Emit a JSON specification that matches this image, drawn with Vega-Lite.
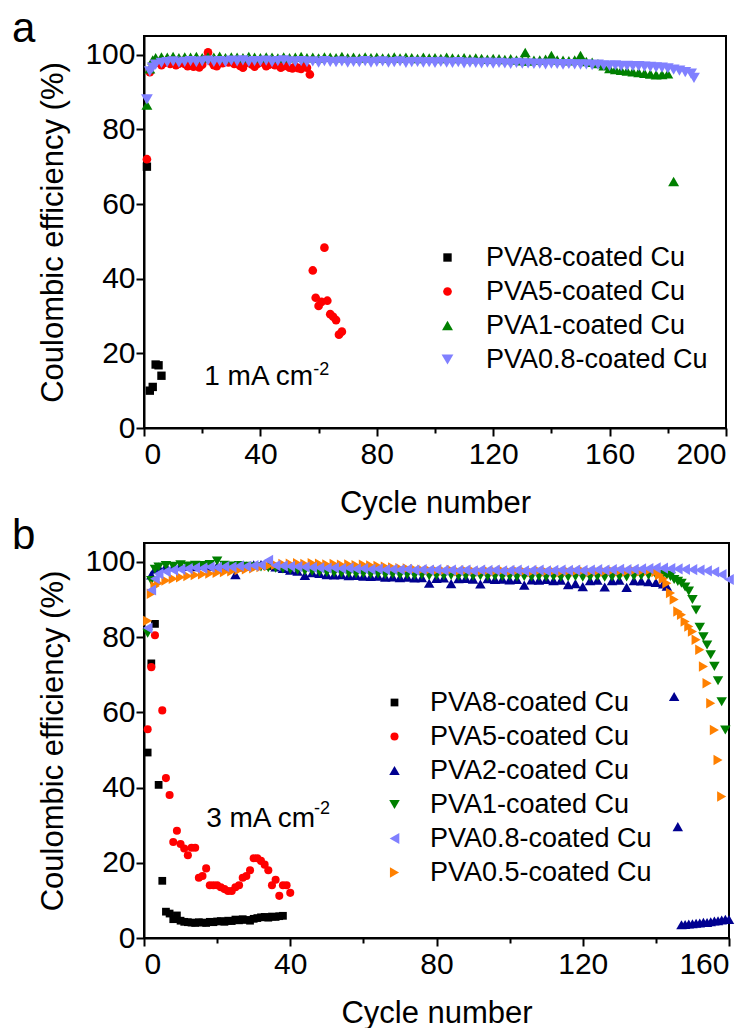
{
"$schema":"https://vega.github.io/schema/vega-lite/v6.json",
"background":"white",
"padding":{"left":10,"top":7,"right":10,"bottom":2},
"spacing":-5,
"config":{
"font":"Liberation Sans",
"view":{"stroke":"black","strokeWidth":2},
"axis":{"domainColor":"black","domainWidth":2,"tickColor":"black","tickWidth":2,"labelFontSize":30,"titleFontSize":31,"labelColor":"black","titleColor":"black","titleFontWeight":"normal","grid":false},
"axisX":{"labelPadding":3,"titlePadding":19},
"axisY":{"labelPadding":1,"titlePadding":15},
"legend":{"orient":"none","labelFontSize":27,"labelLimit":500,"symbolSize":55,"rowPadding":6,"labelOffset":25,"symbolStrokeWidth":0,"padding":0,"labelColor":"black","title":null},
"title":{"fontSize":42,"fontWeight":"normal","anchor":"start","frame":"bounds","baseline":"alphabetic","offset":-15,"dx":-26,"color":"black"}
},
"resolve":{"scale":{"color":"independent","shape":"independent","size":"independent"}},
"vconcat":[
{
"title":"a",
"width":582,"height":392,
"layer":[
{"data":{"values":[
{"s":"PVA8","c":1,"v":70},{"s":"PVA8","c":2,"v":10},{"s":"PVA8","c":3,"v":11},{"s":"PVA8","c":4,"v":17},{"s":"PVA8","c":5,"v":16.8},{"s":"PVA8","c":6,"v":14},
{"s":"PVA5","c":1,"v":72},{"s":"PVA5","c":2,"v":95.3},{"s":"PVA5","c":3,"v":97.5},{"s":"PVA5","c":4,"v":97.8},{"s":"PVA5","c":5,"v":98},{"s":"PVA5","c":6,"v":97.2},{"s":"PVA5","c":7,"v":97.8},{"s":"PVA5","c":8,"v":98.2},{"s":"PVA5","c":9,"v":97.5},{"s":"PVA5","c":10,"v":98},{"s":"PVA5","c":11,"v":97.2},{"s":"PVA5","c":12,"v":97.6},{"s":"PVA5","c":13,"v":98.3},{"s":"PVA5","c":14,"v":97.5},{"s":"PVA5","c":15,"v":96.9},{"s":"PVA5","c":16,"v":97.1},{"s":"PVA5","c":17,"v":96.8},{"s":"PVA5","c":18,"v":97},{"s":"PVA5","c":19,"v":96.6},{"s":"PVA5","c":20,"v":97.3},{"s":"PVA5","c":21,"v":98.8},{"s":"PVA5","c":22,"v":100.6},{"s":"PVA5","c":23,"v":98.2},{"s":"PVA5","c":24,"v":97.2},{"s":"PVA5","c":25,"v":96.9},{"s":"PVA5","c":26,"v":98},{"s":"PVA5","c":27,"v":97.7},{"s":"PVA5","c":28,"v":98.3},{"s":"PVA5","c":29,"v":97.9},{"s":"PVA5","c":30,"v":98.2},{"s":"PVA5","c":31,"v":97.5},{"s":"PVA5","c":32,"v":97.8},{"s":"PVA5","c":33,"v":97},{"s":"PVA5","c":34,"v":96.5},{"s":"PVA5","c":35,"v":97.8},{"s":"PVA5","c":36,"v":98},{"s":"PVA5","c":37,"v":97.4},{"s":"PVA5","c":38,"v":96.8},{"s":"PVA5","c":39,"v":97.5},{"s":"PVA5","c":40,"v":97.9},{"s":"PVA5","c":41,"v":98.1},{"s":"PVA5","c":42,"v":96.9},{"s":"PVA5","c":43,"v":97.3},{"s":"PVA5","c":44,"v":97.8},{"s":"PVA5","c":45,"v":97.2},{"s":"PVA5","c":46,"v":97.6},{"s":"PVA5","c":47,"v":96.5},{"s":"PVA5","c":48,"v":96.9},{"s":"PVA5","c":49,"v":97.7},{"s":"PVA5","c":50,"v":96.5},{"s":"PVA5","c":51,"v":96.3},{"s":"PVA5","c":52,"v":96.8},{"s":"PVA5","c":53,"v":96.4},{"s":"PVA5","c":54,"v":96.2},{"s":"PVA5","c":55,"v":96.8},{"s":"PVA5","c":56,"v":96.5},{"s":"PVA5","c":57,"v":94.7},{"s":"PVA5","c":58,"v":42.2},{"s":"PVA5","c":59,"v":34.9},{"s":"PVA5","c":60,"v":32.7},{"s":"PVA5","c":61,"v":33.8},{"s":"PVA5","c":62,"v":48.3},{"s":"PVA5","c":63,"v":34.1},{"s":"PVA5","c":64,"v":30.5},{"s":"PVA5","c":65,"v":29.8},{"s":"PVA5","c":66,"v":28.9},{"s":"PVA5","c":67,"v":25},{"s":"PVA5","c":68,"v":25.8},
{"s":"PVA1","c":1,"v":86.5},{"s":"PVA1","c":2,"v":96.2},{"s":"PVA1","c":3,"v":98.6},{"s":"PVA1","c":4,"v":99.2},{"s":"PVA1","c":6,"v":99.4},{"s":"PVA1","c":8,"v":99.3},{"s":"PVA1","c":10,"v":99.5},{"s":"PVA1","c":12,"v":99.2},{"s":"PVA1","c":14,"v":99.4},{"s":"PVA1","c":16,"v":99.3},{"s":"PVA1","c":18,"v":99.5},{"s":"PVA1","c":20,"v":99.2},{"s":"PVA1","c":22,"v":99.4},{"s":"PVA1","c":24,"v":99.3},{"s":"PVA1","c":26,"v":99.6},{"s":"PVA1","c":28,"v":99.2},{"s":"PVA1","c":30,"v":99.4},{"s":"PVA1","c":32,"v":99.3},{"s":"PVA1","c":34,"v":99.2},{"s":"PVA1","c":36,"v":99.5},{"s":"PVA1","c":38,"v":99.3},{"s":"PVA1","c":40,"v":99.2},{"s":"PVA1","c":42,"v":99.4},{"s":"PVA1","c":44,"v":99.3},{"s":"PVA1","c":46,"v":99.1},{"s":"PVA1","c":48,"v":99.4},{"s":"PVA1","c":50,"v":99.2},{"s":"PVA1","c":52,"v":99.3},{"s":"PVA1","c":54,"v":99.5},{"s":"PVA1","c":56,"v":99.2},{"s":"PVA1","c":58,"v":99.3},{"s":"PVA1","c":60,"v":99.1},{"s":"PVA1","c":62,"v":99.4},{"s":"PVA1","c":64,"v":99.3},{"s":"PVA1","c":66,"v":99.2},{"s":"PVA1","c":68,"v":99.5},{"s":"PVA1","c":70,"v":99.2},{"s":"PVA1","c":72,"v":99.3},{"s":"PVA1","c":74,"v":99.1},{"s":"PVA1","c":76,"v":99.4},{"s":"PVA1","c":78,"v":99.2},{"s":"PVA1","c":80,"v":99.3},{"s":"PVA1","c":82,"v":99.1},{"s":"PVA1","c":84,"v":99.2},{"s":"PVA1","c":86,"v":99.4},{"s":"PVA1","c":88,"v":99.1},{"s":"PVA1","c":90,"v":99.3},{"s":"PVA1","c":92,"v":99.2},{"s":"PVA1","c":94,"v":99},{"s":"PVA1","c":96,"v":99.3},{"s":"PVA1","c":98,"v":99.1},{"s":"PVA1","c":100,"v":99.2},{"s":"PVA1","c":102,"v":99},{"s":"PVA1","c":104,"v":99.3},{"s":"PVA1","c":106,"v":99.1},{"s":"PVA1","c":108,"v":99},{"s":"PVA1","c":110,"v":99.2},{"s":"PVA1","c":112,"v":98.9},{"s":"PVA1","c":114,"v":99.1},{"s":"PVA1","c":116,"v":99},{"s":"PVA1","c":118,"v":98.8},{"s":"PVA1","c":120,"v":99},{"s":"PVA1","c":122,"v":98.9},{"s":"PVA1","c":124,"v":98.7},{"s":"PVA1","c":126,"v":98.9},{"s":"PVA1","c":128,"v":98.6},{"s":"PVA1","c":130,"v":98.4},{"s":"PVA1","c":131,"v":100.6},{"s":"PVA1","c":132,"v":98.3},{"s":"PVA1","c":134,"v":98.5},{"s":"PVA1","c":136,"v":98.6},{"s":"PVA1","c":138,"v":98.8},{"s":"PVA1","c":140,"v":99.8},{"s":"PVA1","c":142,"v":98.6},{"s":"PVA1","c":144,"v":98.5},{"s":"PVA1","c":146,"v":98.4},{"s":"PVA1","c":148,"v":98.6},{"s":"PVA1","c":150,"v":99.8},{"s":"PVA1","c":152,"v":98.2},{"s":"PVA1","c":154,"v":98},{"s":"PVA1","c":156,"v":97.6},{"s":"PVA1","c":158,"v":97},{"s":"PVA1","c":160,"v":96.3},{"s":"PVA1","c":162,"v":96},{"s":"PVA1","c":164,"v":95.8},{"s":"PVA1","c":166,"v":95.6},{"s":"PVA1","c":168,"v":95.4},{"s":"PVA1","c":170,"v":95.2},{"s":"PVA1","c":172,"v":95},{"s":"PVA1","c":174,"v":94.8},{"s":"PVA1","c":176,"v":94.6},{"s":"PVA1","c":178,"v":94.7},{"s":"PVA1","c":180,"v":94.9},{"s":"PVA1","c":182,"v":66},
{"s":"PVA0.8","c":1,"v":88},{"s":"PVA0.8","c":2,"v":95.5},{"s":"PVA0.8","c":3,"v":96.5},{"s":"PVA0.8","c":4,"v":97.3},{"s":"PVA0.8","c":6,"v":97.8},{"s":"PVA0.8","c":8,"v":98},{"s":"PVA0.8","c":10,"v":98.2},{"s":"PVA0.8","c":12,"v":97.9},{"s":"PVA0.8","c":14,"v":98.1},{"s":"PVA0.8","c":16,"v":98.3},{"s":"PVA0.8","c":18,"v":98},{"s":"PVA0.8","c":20,"v":98.2},{"s":"PVA0.8","c":22,"v":98.4},{"s":"PVA0.8","c":24,"v":98.1},{"s":"PVA0.8","c":26,"v":98.3},{"s":"PVA0.8","c":28,"v":98},{"s":"PVA0.8","c":30,"v":98.4},{"s":"PVA0.8","c":32,"v":98.2},{"s":"PVA0.8","c":34,"v":98.5},{"s":"PVA0.8","c":36,"v":98.1},{"s":"PVA0.8","c":38,"v":98.3},{"s":"PVA0.8","c":40,"v":98.2},{"s":"PVA0.8","c":42,"v":98.4},{"s":"PVA0.8","c":44,"v":98},{"s":"PVA0.8","c":46,"v":98.3},{"s":"PVA0.8","c":48,"v":98.5},{"s":"PVA0.8","c":50,"v":98.2},{"s":"PVA0.8","c":52,"v":98.1},{"s":"PVA0.8","c":54,"v":98.3},{"s":"PVA0.8","c":56,"v":98},{"s":"PVA0.8","c":58,"v":98.2},{"s":"PVA0.8","c":60,"v":97.9},{"s":"PVA0.8","c":62,"v":98.3},{"s":"PVA0.8","c":64,"v":98.1},{"s":"PVA0.8","c":66,"v":98},{"s":"PVA0.8","c":68,"v":98.2},{"s":"PVA0.8","c":70,"v":97.9},{"s":"PVA0.8","c":72,"v":98.1},{"s":"PVA0.8","c":74,"v":98},{"s":"PVA0.8","c":76,"v":98.3},{"s":"PVA0.8","c":78,"v":97.9},{"s":"PVA0.8","c":80,"v":98.1},{"s":"PVA0.8","c":82,"v":98.2},{"s":"PVA0.8","c":84,"v":97.9},{"s":"PVA0.8","c":86,"v":98},{"s":"PVA0.8","c":88,"v":98.2},{"s":"PVA0.8","c":90,"v":97.8},{"s":"PVA0.8","c":92,"v":98},{"s":"PVA0.8","c":94,"v":98.1},{"s":"PVA0.8","c":96,"v":97.9},{"s":"PVA0.8","c":98,"v":98},{"s":"PVA0.8","c":100,"v":97.8},{"s":"PVA0.8","c":102,"v":98.1},{"s":"PVA0.8","c":104,"v":97.9},{"s":"PVA0.8","c":106,"v":97.8},{"s":"PVA0.8","c":108,"v":98},{"s":"PVA0.8","c":110,"v":97.7},{"s":"PVA0.8","c":112,"v":97.9},{"s":"PVA0.8","c":114,"v":97.8},{"s":"PVA0.8","c":116,"v":97.7},{"s":"PVA0.8","c":118,"v":97.9},{"s":"PVA0.8","c":120,"v":97.6},{"s":"PVA0.8","c":122,"v":97.8},{"s":"PVA0.8","c":124,"v":97.7},{"s":"PVA0.8","c":126,"v":97.5},{"s":"PVA0.8","c":128,"v":97.8},{"s":"PVA0.8","c":130,"v":97.6},{"s":"PVA0.8","c":132,"v":97.7},{"s":"PVA0.8","c":134,"v":97.5},{"s":"PVA0.8","c":136,"v":97.6},{"s":"PVA0.8","c":138,"v":97.4},{"s":"PVA0.8","c":140,"v":97.6},{"s":"PVA0.8","c":142,"v":97.5},{"s":"PVA0.8","c":144,"v":97.3},{"s":"PVA0.8","c":146,"v":97.5},{"s":"PVA0.8","c":148,"v":97.4},{"s":"PVA0.8","c":150,"v":97.3},{"s":"PVA0.8","c":152,"v":97.4},{"s":"PVA0.8","c":154,"v":97.2},{"s":"PVA0.8","c":156,"v":97.3},{"s":"PVA0.8","c":158,"v":97.1},{"s":"PVA0.8","c":160,"v":97},{"s":"PVA0.8","c":162,"v":97.1},{"s":"PVA0.8","c":164,"v":96.9},{"s":"PVA0.8","c":166,"v":97},{"s":"PVA0.8","c":168,"v":96.9},{"s":"PVA0.8","c":170,"v":96.9},{"s":"PVA0.8","c":172,"v":96.8},{"s":"PVA0.8","c":174,"v":96.7},{"s":"PVA0.8","c":176,"v":96.6},{"s":"PVA0.8","c":178,"v":96.5},{"s":"PVA0.8","c":180,"v":96.3},{"s":"PVA0.8","c":182,"v":96},{"s":"PVA0.8","c":184,"v":95.7},{"s":"PVA0.8","c":186,"v":95.3},{"s":"PVA0.8","c":188,"v":94.9},{"s":"PVA0.8","c":189,"v":93.8}
]},
"mark":{"type":"point","filled":true,"opacity":1,"strokeWidth":0},
"encoding":{
"x":{"field":"c","type":"quantitative","scale":{"domain":[0,200],"nice":false,"zero":false},"axis":{"values":[0,20,40,60,80,100,120,140,160,180,200],"labelExpr":"datum.value % 40 === 0 ? datum.label : ''","tickSize":{"condition":{"test":"datum.value % 40 === 0","value":8},"value":5},"title":"Cycle number"}},
"y":{"field":"v","type":"quantitative","scale":{"domain":[0,105],"nice":false},"axis":{"values":[0,10,20,30,40,50,60,70,80,90,100],"labelExpr":"datum.value % 20 === 0 ? datum.label : ''","tickSize":{"condition":{"test":"datum.value % 20 === 0","value":8},"value":5},"title":"Coulombic efficiency (%)"}},
"color":{"field":"s","type":"nominal","sort":null,"scale":{"domain":["PVA8","PVA5","PVA1","PVA0.8"],"range":["#000000","#ff0000","#008000","#8080ff"]},"legend":{"legendX":290,"legendY":208,"labelExpr":"datum.label + '-coated Cu'"}},
"shape":{"field":"s","type":"nominal","sort":null,"scale":{"domain":["PVA8","PVA5","PVA1","PVA0.8"],"range":["square","circle","triangle-up","triangle-down"]},"legend":{"legendX":290,"legendY":208,"labelExpr":"datum.label + '-coated Cu'"}},
"size":{"field":"s","type":"nominal","scale":{"type":"ordinal","domain":["PVA8","PVA5","PVA1","PVA0.8"],"range":[70,75,120,140]},"legend":null}
}},
{"data":{"values":[{"c":20.7,"v":11.5,"t":"1 mA cm"}]},"mark":{"type":"text","align":"left","baseline":"alphabetic","fontSize":28,"color":"black"},"encoding":{"x":{"field":"c","type":"quantitative"},"y":{"field":"v","type":"quantitative"},"text":{"field":"t"}}},
{"data":{"values":[{"c":58.2,"v":14.2,"t":"-2"}]},"mark":{"type":"text","align":"left","baseline":"alphabetic","fontSize":18,"color":"black"},"encoding":{"x":{"field":"c","type":"quantitative"},"y":{"field":"v","type":"quantitative"},"text":{"field":"t"}}}
]
},
{
"title":"b",
"width":585,"height":395,
"layer":[
{"data":{"values":[
{"s":"PVA8","c":1,"v":49.3},{"s":"PVA8","c":2,"v":73},{"s":"PVA8","c":3,"v":83.5},{"s":"PVA8","c":4,"v":40.7},{"s":"PVA8","c":5,"v":15.2},{"s":"PVA8","c":6,"v":7},{"s":"PVA8","c":7,"v":6.5},{"s":"PVA8","c":8,"v":5},{"s":"PVA8","c":9,"v":6},{"s":"PVA8","c":10,"v":4.6},{"s":"PVA8","c":11,"v":4.3},{"s":"PVA8","c":12,"v":4.2},{"s":"PVA8","c":13,"v":4.1},{"s":"PVA8","c":14,"v":4},{"s":"PVA8","c":15,"v":4.2},{"s":"PVA8","c":16,"v":4.1},{"s":"PVA8","c":17,"v":4},{"s":"PVA8","c":18,"v":4.3},{"s":"PVA8","c":19,"v":4.2},{"s":"PVA8","c":20,"v":4.4},{"s":"PVA8","c":21,"v":4.5},{"s":"PVA8","c":22,"v":4.3},{"s":"PVA8","c":23,"v":4.6},{"s":"PVA8","c":24,"v":4.5},{"s":"PVA8","c":25,"v":4.9},{"s":"PVA8","c":26,"v":4.7},{"s":"PVA8","c":27,"v":5},{"s":"PVA8","c":28,"v":4.8},{"s":"PVA8","c":29,"v":4.6},{"s":"PVA8","c":30,"v":5.1},{"s":"PVA8","c":31,"v":5.3},{"s":"PVA8","c":32,"v":5.5},{"s":"PVA8","c":33,"v":5.6},{"s":"PVA8","c":34,"v":5.4},{"s":"PVA8","c":35,"v":5.7},{"s":"PVA8","c":36,"v":5.6},{"s":"PVA8","c":37,"v":5.8},{"s":"PVA8","c":38,"v":5.9},
{"s":"PVA5","c":1,"v":55.5},{"s":"PVA5","c":2,"v":72},{"s":"PVA5","c":3,"v":80.5},{"s":"PVA5","c":5,"v":60.5},{"s":"PVA5","c":6,"v":42.5},{"s":"PVA5","c":7,"v":38},{"s":"PVA5","c":8,"v":25.5},{"s":"PVA5","c":9,"v":28.5},{"s":"PVA5","c":10,"v":25},{"s":"PVA5","c":11,"v":23.8},{"s":"PVA5","c":12,"v":22},{"s":"PVA5","c":13,"v":24},{"s":"PVA5","c":14,"v":24},{"s":"PVA5","c":15,"v":16},{"s":"PVA5","c":16,"v":16.5},{"s":"PVA5","c":17,"v":18.5},{"s":"PVA5","c":18,"v":14},{"s":"PVA5","c":19,"v":14},{"s":"PVA5","c":20,"v":14},{"s":"PVA5","c":21,"v":13.5},{"s":"PVA5","c":22,"v":13},{"s":"PVA5","c":23,"v":12.5},{"s":"PVA5","c":24,"v":12.5},{"s":"PVA5","c":25,"v":13.5},{"s":"PVA5","c":26,"v":14},{"s":"PVA5","c":27,"v":16},{"s":"PVA5","c":28,"v":16.5},{"s":"PVA5","c":29,"v":18},{"s":"PVA5","c":30,"v":21.2},{"s":"PVA5","c":31,"v":21.2},{"s":"PVA5","c":32,"v":20.5},{"s":"PVA5","c":33,"v":19.5},{"s":"PVA5","c":34,"v":18},{"s":"PVA5","c":35,"v":14},{"s":"PVA5","c":36,"v":15.5},{"s":"PVA5","c":37,"v":11.2},{"s":"PVA5","c":38,"v":14},{"s":"PVA5","c":39,"v":14},{"s":"PVA5","c":40,"v":12},
{"s":"PVA2","c":2,"v":96.5},{"s":"PVA2","c":3,"v":98},{"s":"PVA2","c":4,"v":98.6},{"s":"PVA2","c":6,"v":98.8},{"s":"PVA2","c":8,"v":98.7},{"s":"PVA2","c":10,"v":98.9},{"s":"PVA2","c":12,"v":98.8},{"s":"PVA2","c":14,"v":98.7},{"s":"PVA2","c":16,"v":99},{"s":"PVA2","c":18,"v":98.8},{"s":"PVA2","c":20,"v":98.9},{"s":"PVA2","c":22,"v":98.7},{"s":"PVA2","c":24,"v":98.8},{"s":"PVA2","c":25,"v":96.6},{"s":"PVA2","c":26,"v":98.6},{"s":"PVA2","c":28,"v":98.9},{"s":"PVA2","c":30,"v":99.2},{"s":"PVA2","c":32,"v":99.3},{"s":"PVA2","c":34,"v":99},{"s":"PVA2","c":36,"v":98.6},{"s":"PVA2","c":38,"v":98.2},{"s":"PVA2","c":40,"v":97.8},{"s":"PVA2","c":42,"v":97.5},{"s":"PVA2","c":44,"v":96.4},{"s":"PVA2","c":46,"v":97.1},{"s":"PVA2","c":48,"v":96.9},{"s":"PVA2","c":50,"v":96.6},{"s":"PVA2","c":52,"v":96.5},{"s":"PVA2","c":54,"v":96.6},{"s":"PVA2","c":56,"v":96.3},{"s":"PVA2","c":58,"v":96.4},{"s":"PVA2","c":60,"v":96.2},{"s":"PVA2","c":62,"v":96.1},{"s":"PVA2","c":64,"v":96.2},{"s":"PVA2","c":66,"v":95.9},{"s":"PVA2","c":68,"v":96},{"s":"PVA2","c":70,"v":95.8},{"s":"PVA2","c":72,"v":95.9},{"s":"PVA2","c":74,"v":95.7},{"s":"PVA2","c":76,"v":95.8},{"s":"PVA2","c":78,"v":94.3},{"s":"PVA2","c":80,"v":95.6},{"s":"PVA2","c":82,"v":95.7},{"s":"PVA2","c":84,"v":94.2},{"s":"PVA2","c":86,"v":95.5},{"s":"PVA2","c":88,"v":95.6},{"s":"PVA2","c":90,"v":95.4},{"s":"PVA2","c":92,"v":94.1},{"s":"PVA2","c":94,"v":95.5},{"s":"PVA2","c":96,"v":95.3},{"s":"PVA2","c":98,"v":95.4},{"s":"PVA2","c":100,"v":95.2},{"s":"PVA2","c":102,"v":95.3},{"s":"PVA2","c":104,"v":93.8},{"s":"PVA2","c":106,"v":95.2},{"s":"PVA2","c":108,"v":95.1},{"s":"PVA2","c":110,"v":95.3},{"s":"PVA2","c":112,"v":95},{"s":"PVA2","c":114,"v":95.1},{"s":"PVA2","c":116,"v":93.9},{"s":"PVA2","c":118,"v":94.2},{"s":"PVA2","c":120,"v":93.4},{"s":"PVA2","c":122,"v":95},{"s":"PVA2","c":124,"v":95.1},{"s":"PVA2","c":126,"v":93.3},{"s":"PVA2","c":128,"v":95},{"s":"PVA2","c":130,"v":95.1},{"s":"PVA2","c":132,"v":93.2},{"s":"PVA2","c":134,"v":95},{"s":"PVA2","c":136,"v":94.9},{"s":"PVA2","c":138,"v":94.7},{"s":"PVA2","c":140,"v":94.5},{"s":"PVA2","c":142,"v":94.1},{"s":"PVA2","c":143,"v":93.5},{"s":"PVA2","c":145,"v":64.2},{"s":"PVA2","c":146,"v":29.6},{"s":"PVA2","c":147,"v":3.5},{"s":"PVA2","c":148,"v":3.6},{"s":"PVA2","c":149,"v":3.7},{"s":"PVA2","c":150,"v":3.8},{"s":"PVA2","c":151,"v":3.9},{"s":"PVA2","c":152,"v":4},{"s":"PVA2","c":153,"v":4.2},{"s":"PVA2","c":154,"v":4.1},{"s":"PVA2","c":155,"v":4.3},{"s":"PVA2","c":156,"v":4.5},{"s":"PVA2","c":157,"v":4.6},{"s":"PVA2","c":158,"v":4.8},{"s":"PVA2","c":159,"v":5},{"s":"PVA2","c":160,"v":4.9},
{"s":"PVA1","c":1,"v":81},{"s":"PVA1","c":2,"v":95},{"s":"PVA1","c":3,"v":98},{"s":"PVA1","c":4,"v":98.6},{"s":"PVA1","c":6,"v":99},{"s":"PVA1","c":8,"v":98.8},{"s":"PVA1","c":10,"v":99.2},{"s":"PVA1","c":12,"v":98.9},{"s":"PVA1","c":14,"v":99.1},{"s":"PVA1","c":16,"v":99},{"s":"PVA1","c":18,"v":99.3},{"s":"PVA1","c":20,"v":100.2},{"s":"PVA1","c":22,"v":99.1},{"s":"PVA1","c":24,"v":98.9},{"s":"PVA1","c":26,"v":99},{"s":"PVA1","c":28,"v":98.8},{"s":"PVA1","c":30,"v":98.7},{"s":"PVA1","c":32,"v":98.6},{"s":"PVA1","c":34,"v":98.4},{"s":"PVA1","c":36,"v":98.3},{"s":"PVA1","c":38,"v":98.1},{"s":"PVA1","c":40,"v":97.9},{"s":"PVA1","c":42,"v":97.8},{"s":"PVA1","c":44,"v":97.6},{"s":"PVA1","c":46,"v":97.5},{"s":"PVA1","c":48,"v":97.3},{"s":"PVA1","c":50,"v":97.2},{"s":"PVA1","c":52,"v":97.1},{"s":"PVA1","c":54,"v":97},{"s":"PVA1","c":56,"v":96.9},{"s":"PVA1","c":58,"v":96.8},{"s":"PVA1","c":60,"v":96.9},{"s":"PVA1","c":62,"v":96.7},{"s":"PVA1","c":64,"v":96.8},{"s":"PVA1","c":66,"v":96.6},{"s":"PVA1","c":68,"v":96.7},{"s":"PVA1","c":70,"v":96.5},{"s":"PVA1","c":72,"v":96.6},{"s":"PVA1","c":74,"v":96.4},{"s":"PVA1","c":76,"v":96.5},{"s":"PVA1","c":78,"v":96.3},{"s":"PVA1","c":80,"v":96.4},{"s":"PVA1","c":82,"v":96.3},{"s":"PVA1","c":84,"v":96.4},{"s":"PVA1","c":86,"v":96.2},{"s":"PVA1","c":88,"v":96.3},{"s":"PVA1","c":90,"v":96.2},{"s":"PVA1","c":92,"v":96.3},{"s":"PVA1","c":94,"v":96.1},{"s":"PVA1","c":96,"v":96.2},{"s":"PVA1","c":98,"v":96.1},{"s":"PVA1","c":100,"v":96.2},{"s":"PVA1","c":102,"v":96},{"s":"PVA1","c":104,"v":96.1},{"s":"PVA1","c":106,"v":96},{"s":"PVA1","c":108,"v":96.1},{"s":"PVA1","c":110,"v":96},{"s":"PVA1","c":112,"v":96.1},{"s":"PVA1","c":114,"v":95.9},{"s":"PVA1","c":116,"v":96},{"s":"PVA1","c":118,"v":96.1},{"s":"PVA1","c":120,"v":95.9},{"s":"PVA1","c":122,"v":96},{"s":"PVA1","c":124,"v":96.1},{"s":"PVA1","c":126,"v":95.9},{"s":"PVA1","c":128,"v":96},{"s":"PVA1","c":130,"v":96.1},{"s":"PVA1","c":132,"v":96},{"s":"PVA1","c":134,"v":96.2},{"s":"PVA1","c":136,"v":96.3},{"s":"PVA1","c":138,"v":96.4},{"s":"PVA1","c":140,"v":96.6},{"s":"PVA1","c":142,"v":96.7},{"s":"PVA1","c":143,"v":96.5},{"s":"PVA1","c":144,"v":96.1},{"s":"PVA1","c":145,"v":95.3},{"s":"PVA1","c":146,"v":94.8},{"s":"PVA1","c":147,"v":94.3},{"s":"PVA1","c":148,"v":93.3},{"s":"PVA1","c":149,"v":92.2},{"s":"PVA1","c":150,"v":90},{"s":"PVA1","c":151,"v":87.2},{"s":"PVA1","c":152,"v":82.6},{"s":"PVA1","c":153,"v":80.1},{"s":"PVA1","c":154,"v":77.9},{"s":"PVA1","c":155,"v":75.3},{"s":"PVA1","c":156,"v":72.2},{"s":"PVA1","c":157,"v":68.4},{"s":"PVA1","c":158,"v":62.8},{"s":"PVA1","c":159,"v":55.3},
{"s":"PVA0.5","c":1,"v":84.3},{"s":"PVA0.5","c":2,"v":91.5},{"s":"PVA0.5","c":3,"v":93.5},{"s":"PVA0.5","c":4,"v":94.3},{"s":"PVA0.5","c":6,"v":95},{"s":"PVA0.5","c":8,"v":95.5},{"s":"PVA0.5","c":10,"v":95.9},{"s":"PVA0.5","c":12,"v":96.2},{"s":"PVA0.5","c":14,"v":96.5},{"s":"PVA0.5","c":16,"v":96.7},{"s":"PVA0.5","c":18,"v":96.9},{"s":"PVA0.5","c":20,"v":97.1},{"s":"PVA0.5","c":22,"v":97.3},{"s":"PVA0.5","c":24,"v":97.5},{"s":"PVA0.5","c":26,"v":97.8},{"s":"PVA0.5","c":28,"v":98},{"s":"PVA0.5","c":30,"v":98.3},{"s":"PVA0.5","c":32,"v":98.6},{"s":"PVA0.5","c":34,"v":98.9},{"s":"PVA0.5","c":36,"v":99.2},{"s":"PVA0.5","c":38,"v":99.4},{"s":"PVA0.5","c":40,"v":99.5},{"s":"PVA0.5","c":42,"v":99.6},{"s":"PVA0.5","c":44,"v":99.4},{"s":"PVA0.5","c":46,"v":99.6},{"s":"PVA0.5","c":48,"v":99.5},{"s":"PVA0.5","c":50,"v":99.3},{"s":"PVA0.5","c":52,"v":99.4},{"s":"PVA0.5","c":54,"v":99.2},{"s":"PVA0.5","c":56,"v":99.3},{"s":"PVA0.5","c":58,"v":99.1},{"s":"PVA0.5","c":60,"v":99.2},{"s":"PVA0.5","c":62,"v":99},{"s":"PVA0.5","c":64,"v":98.9},{"s":"PVA0.5","c":66,"v":98.7},{"s":"PVA0.5","c":68,"v":98.5},{"s":"PVA0.5","c":70,"v":98.3},{"s":"PVA0.5","c":72,"v":98.2},{"s":"PVA0.5","c":74,"v":98},{"s":"PVA0.5","c":76,"v":97.9},{"s":"PVA0.5","c":78,"v":97.8},{"s":"PVA0.5","c":80,"v":97.7},{"s":"PVA0.5","c":82,"v":97.6},{"s":"PVA0.5","c":84,"v":97.8},{"s":"PVA0.5","c":86,"v":97.5},{"s":"PVA0.5","c":88,"v":97.7},{"s":"PVA0.5","c":90,"v":97.6},{"s":"PVA0.5","c":92,"v":97.4},{"s":"PVA0.5","c":94,"v":97.6},{"s":"PVA0.5","c":96,"v":97.5},{"s":"PVA0.5","c":98,"v":97.7},{"s":"PVA0.5","c":100,"v":97.4},{"s":"PVA0.5","c":102,"v":97.6},{"s":"PVA0.5","c":104,"v":97.5},{"s":"PVA0.5","c":106,"v":97.3},{"s":"PVA0.5","c":108,"v":97.6},{"s":"PVA0.5","c":110,"v":97.4},{"s":"PVA0.5","c":112,"v":97.5},{"s":"PVA0.5","c":114,"v":97.3},{"s":"PVA0.5","c":116,"v":97.5},{"s":"PVA0.5","c":118,"v":97.4},{"s":"PVA0.5","c":120,"v":97.6},{"s":"PVA0.5","c":122,"v":97.3},{"s":"PVA0.5","c":124,"v":97.5},{"s":"PVA0.5","c":126,"v":97.4},{"s":"PVA0.5","c":128,"v":97.6},{"s":"PVA0.5","c":130,"v":97.5},{"s":"PVA0.5","c":132,"v":97.4},{"s":"PVA0.5","c":134,"v":97.6},{"s":"PVA0.5","c":136,"v":97.5},{"s":"PVA0.5","c":138,"v":97.6},{"s":"PVA0.5","c":140,"v":97.3},{"s":"PVA0.5","c":141,"v":96.5},{"s":"PVA0.5","c":142,"v":95.5},{"s":"PVA0.5","c":143,"v":94.3},{"s":"PVA0.5","c":144,"v":91.7},{"s":"PVA0.5","c":145,"v":90},{"s":"PVA0.5","c":146,"v":86.8},{"s":"PVA0.5","c":147,"v":85.9},{"s":"PVA0.5","c":148,"v":84.1},{"s":"PVA0.5","c":149,"v":82.8},{"s":"PVA0.5","c":150,"v":81.5},{"s":"PVA0.5","c":151,"v":79.3},{"s":"PVA0.5","c":152,"v":76.6},{"s":"PVA0.5","c":153,"v":72.2},{"s":"PVA0.5","c":154,"v":67.7},{"s":"PVA0.5","c":155,"v":62.4},{"s":"PVA0.5","c":156,"v":55.3},{"s":"PVA0.5","c":157,"v":47.3},{"s":"PVA0.5","c":158,"v":37.6},
{"s":"PVA0.8","c":1,"v":82.4},{"s":"PVA0.8","c":2,"v":92.5},{"s":"PVA0.8","c":3,"v":95.5},{"s":"PVA0.8","c":4,"v":96.8},{"s":"PVA0.8","c":6,"v":97.4},{"s":"PVA0.8","c":8,"v":97.8},{"s":"PVA0.8","c":10,"v":98},{"s":"PVA0.8","c":12,"v":98.2},{"s":"PVA0.8","c":14,"v":98.4},{"s":"PVA0.8","c":16,"v":98.3},{"s":"PVA0.8","c":18,"v":98.6},{"s":"PVA0.8","c":20,"v":98.5},{"s":"PVA0.8","c":22,"v":98.7},{"s":"PVA0.8","c":24,"v":98.6},{"s":"PVA0.8","c":26,"v":98.9},{"s":"PVA0.8","c":28,"v":98.8},{"s":"PVA0.8","c":30,"v":99},{"s":"PVA0.8","c":32,"v":99.2},{"s":"PVA0.8","c":34,"v":100.4},{"s":"PVA0.8","c":36,"v":99},{"s":"PVA0.8","c":38,"v":98.9},{"s":"PVA0.8","c":40,"v":98.8},{"s":"PVA0.8","c":42,"v":98.7},{"s":"PVA0.8","c":44,"v":98.6},{"s":"PVA0.8","c":46,"v":98.5},{"s":"PVA0.8","c":48,"v":98.4},{"s":"PVA0.8","c":50,"v":98.3},{"s":"PVA0.8","c":52,"v":98.4},{"s":"PVA0.8","c":54,"v":98.2},{"s":"PVA0.8","c":56,"v":98.3},{"s":"PVA0.8","c":58,"v":98.1},{"s":"PVA0.8","c":60,"v":98.2},{"s":"PVA0.8","c":62,"v":98},{"s":"PVA0.8","c":64,"v":98.1},{"s":"PVA0.8","c":66,"v":97.9},{"s":"PVA0.8","c":68,"v":98},{"s":"PVA0.8","c":70,"v":97.9},{"s":"PVA0.8","c":72,"v":98},{"s":"PVA0.8","c":74,"v":97.8},{"s":"PVA0.8","c":76,"v":97.9},{"s":"PVA0.8","c":78,"v":97.8},{"s":"PVA0.8","c":80,"v":97.9},{"s":"PVA0.8","c":82,"v":97.7},{"s":"PVA0.8","c":84,"v":97.8},{"s":"PVA0.8","c":86,"v":97.7},{"s":"PVA0.8","c":88,"v":97.8},{"s":"PVA0.8","c":90,"v":97.6},{"s":"PVA0.8","c":92,"v":97.8},{"s":"PVA0.8","c":94,"v":97.7},{"s":"PVA0.8","c":96,"v":97.8},{"s":"PVA0.8","c":98,"v":97.6},{"s":"PVA0.8","c":100,"v":97.7},{"s":"PVA0.8","c":102,"v":97.8},{"s":"PVA0.8","c":104,"v":97.6},{"s":"PVA0.8","c":106,"v":97.7},{"s":"PVA0.8","c":108,"v":97.8},{"s":"PVA0.8","c":110,"v":97.6},{"s":"PVA0.8","c":112,"v":97.7},{"s":"PVA0.8","c":114,"v":97.8},{"s":"PVA0.8","c":116,"v":97.7},{"s":"PVA0.8","c":118,"v":97.8},{"s":"PVA0.8","c":120,"v":97.7},{"s":"PVA0.8","c":122,"v":97.8},{"s":"PVA0.8","c":124,"v":97.9},{"s":"PVA0.8","c":126,"v":97.8},{"s":"PVA0.8","c":128,"v":97.9},{"s":"PVA0.8","c":130,"v":98},{"s":"PVA0.8","c":132,"v":97.9},{"s":"PVA0.8","c":134,"v":98},{"s":"PVA0.8","c":136,"v":98.1},{"s":"PVA0.8","c":138,"v":98.2},{"s":"PVA0.8","c":140,"v":98.4},{"s":"PVA0.8","c":142,"v":98.3},{"s":"PVA0.8","c":144,"v":98.2},{"s":"PVA0.8","c":146,"v":98.1},{"s":"PVA0.8","c":148,"v":98},{"s":"PVA0.8","c":150,"v":97.9},{"s":"PVA0.8","c":152,"v":97.8},{"s":"PVA0.8","c":154,"v":97.6},{"s":"PVA0.8","c":156,"v":97.3},{"s":"PVA0.8","c":158,"v":96.6},{"s":"PVA0.8","c":160,"v":95.3}
]},
"mark":{"type":"point","filled":true,"opacity":1,"strokeWidth":0},
"encoding":{
"x":{"field":"c","type":"quantitative","scale":{"domain":[0,160],"nice":false,"zero":false},"axis":{"values":[0,20,40,60,80,100,120,140,160],"labelExpr":"datum.value % 40 === 0 ? datum.label : ''","tickSize":{"condition":{"test":"datum.value % 40 === 0","value":8},"value":5},"title":"Cycle number"}},
"y":{"field":"v","type":"quantitative","scale":{"domain":[0,105],"nice":false},"axis":{"values":[0,10,20,30,40,50,60,70,80,90,100],"labelExpr":"datum.value % 20 === 0 ? datum.label : ''","tickSize":{"condition":{"test":"datum.value % 20 === 0","value":8},"value":5},"title":"Coulombic efficiency (%)"}},
"color":{"field":"s","type":"nominal","sort":null,"scale":{"domain":["PVA8","PVA5","PVA2","PVA1","PVA0.8","PVA0.5"],"range":["#000000","#ff0000","#000090","#008000","#8080ff","#ff8000"]},"legend":{"legendX":237,"legendY":146,"labelOffset":22,"labelExpr":"datum.label + '-coated Cu'"}},
"shape":{"field":"s","type":"nominal","sort":null,"scale":{"domain":["PVA8","PVA5","PVA2","PVA1","PVA0.8","PVA0.5"],"range":["square","circle","triangle-up","triangle-down","triangle-left","triangle-right"]},"legend":{"legendX":237,"legendY":146,"labelOffset":22,"labelExpr":"datum.label + '-coated Cu'"}},
"size":{"field":"s","type":"nominal","scale":{"type":"ordinal","domain":["PVA8","PVA5","PVA2","PVA1","PVA0.8","PVA0.5"],"range":[60,65,110,110,125,110]},"legend":null}
}},
{"data":{"values":[{"c":17,"v":29.6,"t":"3 mA cm"}]},"mark":{"type":"text","align":"left","baseline":"alphabetic","fontSize":28,"color":"black"},"encoding":{"x":{"field":"c","type":"quantitative"},"y":{"field":"v","type":"quantitative"},"text":{"field":"t"}}},
{"data":{"values":[{"c":46.5,"v":32.9,"t":"-2"}]},"mark":{"type":"text","align":"left","baseline":"alphabetic","fontSize":18,"color":"black"},"encoding":{"x":{"field":"c","type":"quantitative"},"y":{"field":"v","type":"quantitative"},"text":{"field":"t"}}}
]
}
]
}
